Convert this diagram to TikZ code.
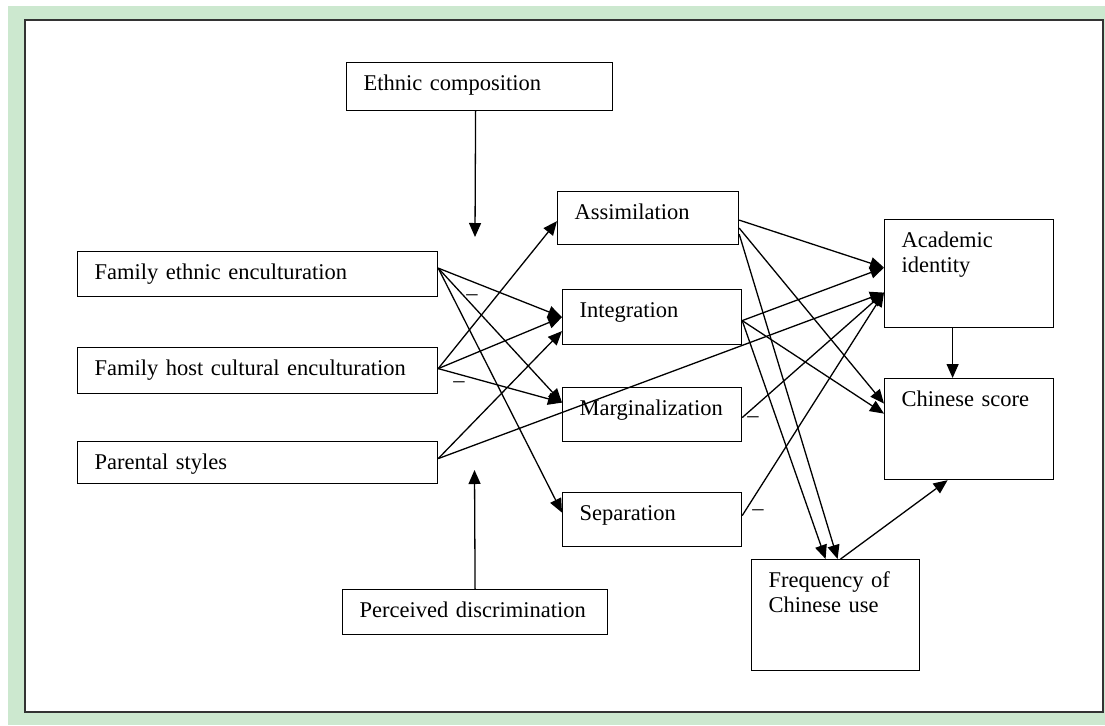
\documentclass[tikz,border=0pt]{standalone}
\usepackage{fontspec}
\setmainfont{Liberation Serif}
\usetikzlibrary{arrows.meta}
\definecolor{framegreen}{RGB}{204,232,207}

\begin{document}
\begin{tikzpicture}[x=0.5pt,y=-0.5pt]
        \tikzset{box/.style 2 args={draw, anchor=north west, align=left,
                inner xsep=8.5pt, inner ysep=0pt, line width=0.6pt,
                text width=#1, text height=14pt, text depth=#2,
                font=\fontsize{11.25}{12.5}\selectfont},
            link/.style={-{Triangle[length=7pt,width=6pt]}, line width=0.65pt},
            minus/.style={inner sep=0pt, font=\fontsize{11.25}{12.5}\selectfont}}
        \useasboundingbox (0,0) rectangle (1105,725);
        \fill[framegreen] (8,6) rectangle (1105,725);
        \filldraw[fill=white, draw=black!80, line width=0.75pt] (25,20) rectangle (1103,712);

        \node[box={116pt}{10pt}] (ethcomp) at (346,62) {Ethnic composition};
        \node[box={163pt}{8.5pt}] (famethnic) at (77,251) {Family ethnic enculturation};
        \node[box={163pt}{9pt}] (famhost) at (77,347) {Family host cultural enculturation};
        \node[box={163pt}{7pt}] (parental) at (77,441) {Parental styles};
        \node[box={73.5pt}{12.5pt}] (assim) at (557,191) {Assimilation};
        \node[box={72.5pt}{13.5pt}] (integ) at (562,289) {Integration};
        \node[box={72.5pt}{13pt}] (margin) at (562,387) {Marginalization};
        \node[box={72.5pt}{13pt}] (separ) at (562,492) {Separation};
        \node[box={67.5pt}{40pt}] (academic) at (884,219) {Academic\\identity};
        \node[box={67.5pt}{36.5pt}] (chinese) at (884,378) {Chinese score};
        \node[box={67pt}{41.5pt}] (freq) at (751,559) {Frequency of\\Chinese use};
        \node[box={115.5pt}{8.5pt}] (discrim) at (342,589) {Perceived discrimination};

        \coordinate (ethtip) at (475,237);
        \coordinate (distip) at (474.5,470);
        \draw[link] ([xshift=-2pt]ethcomp.south) -- (ethtip);
        \draw[link] (discrim.north) -- (distip);

        % family side
        \draw[link] ([yshift=3pt]famethnic.east) -- (integ.west);
        \draw[link] ([yshift=3pt]famethnic.east) -- ([yshift=6pt]margin.west);
        \draw[link] ([yshift=3pt]famethnic.east) -- ([yshift=3.5pt]separ.west);
        \draw[link] ([yshift=1pt]famhost.east) -- ([yshift=-1.5pt]assim.west);
        \draw[link] ([yshift=1pt]famhost.east) -- (integ.west);
        \draw[link] ([yshift=1pt]famhost.east) -- ([yshift=6pt]margin.west);
        \draw[link] ([yshift=2pt]parental.east) -- ([yshift=-7pt]integ.west);
        \draw[link] ([yshift=2pt]parental.east) -- ([yshift=-9.5pt]academic.west);

        % outcomes
        \draw[link] ([yshift=-1pt]assim.east) -- ([yshift=3pt]academic.west);
        \draw[link] ([yshift=-5pt]assim.east) -- ([yshift=12.75pt]chinese.west);
        \draw[link] ([yshift=-8pt]assim.east) -- ([xshift=1pt]freq.north);
        \draw[link] ([yshift=-1.75pt]integ.east) -- ([yshift=3pt]academic.west);
        \draw[link] ([yshift=-1.75pt]integ.east) -- ([yshift=7.75pt]chinese.west);
        \draw[link] ([yshift=-1.75pt]integ.east) -- ([xshift=-5pt]freq.north);
        \draw[link] ([yshift=-1.5pt]margin.east) -- ([yshift=-9.5pt]academic.west);
        \draw[link] ([yshift=2pt]separ.east) -- ([yshift=-9.5pt]academic.west);
        \draw[link] ([xshift=-8.25pt]academic.south) -- ([xshift=-8.25pt]chinese.north);
        \draw[link] ([xshift=2.5pt]freq.north) -- ([xshift=-10.75pt]chinese.south);

        \node[minus] (neg1) at (472,298) {\textendash};
        \node[minus] (neg2) at (459,385) {\textendash};
        \node[minus] (neg3) at (753,420) {\textendash};
        \node[minus] (neg4) at (758,513) {\textendash};
\end{tikzpicture}
\end{document}
